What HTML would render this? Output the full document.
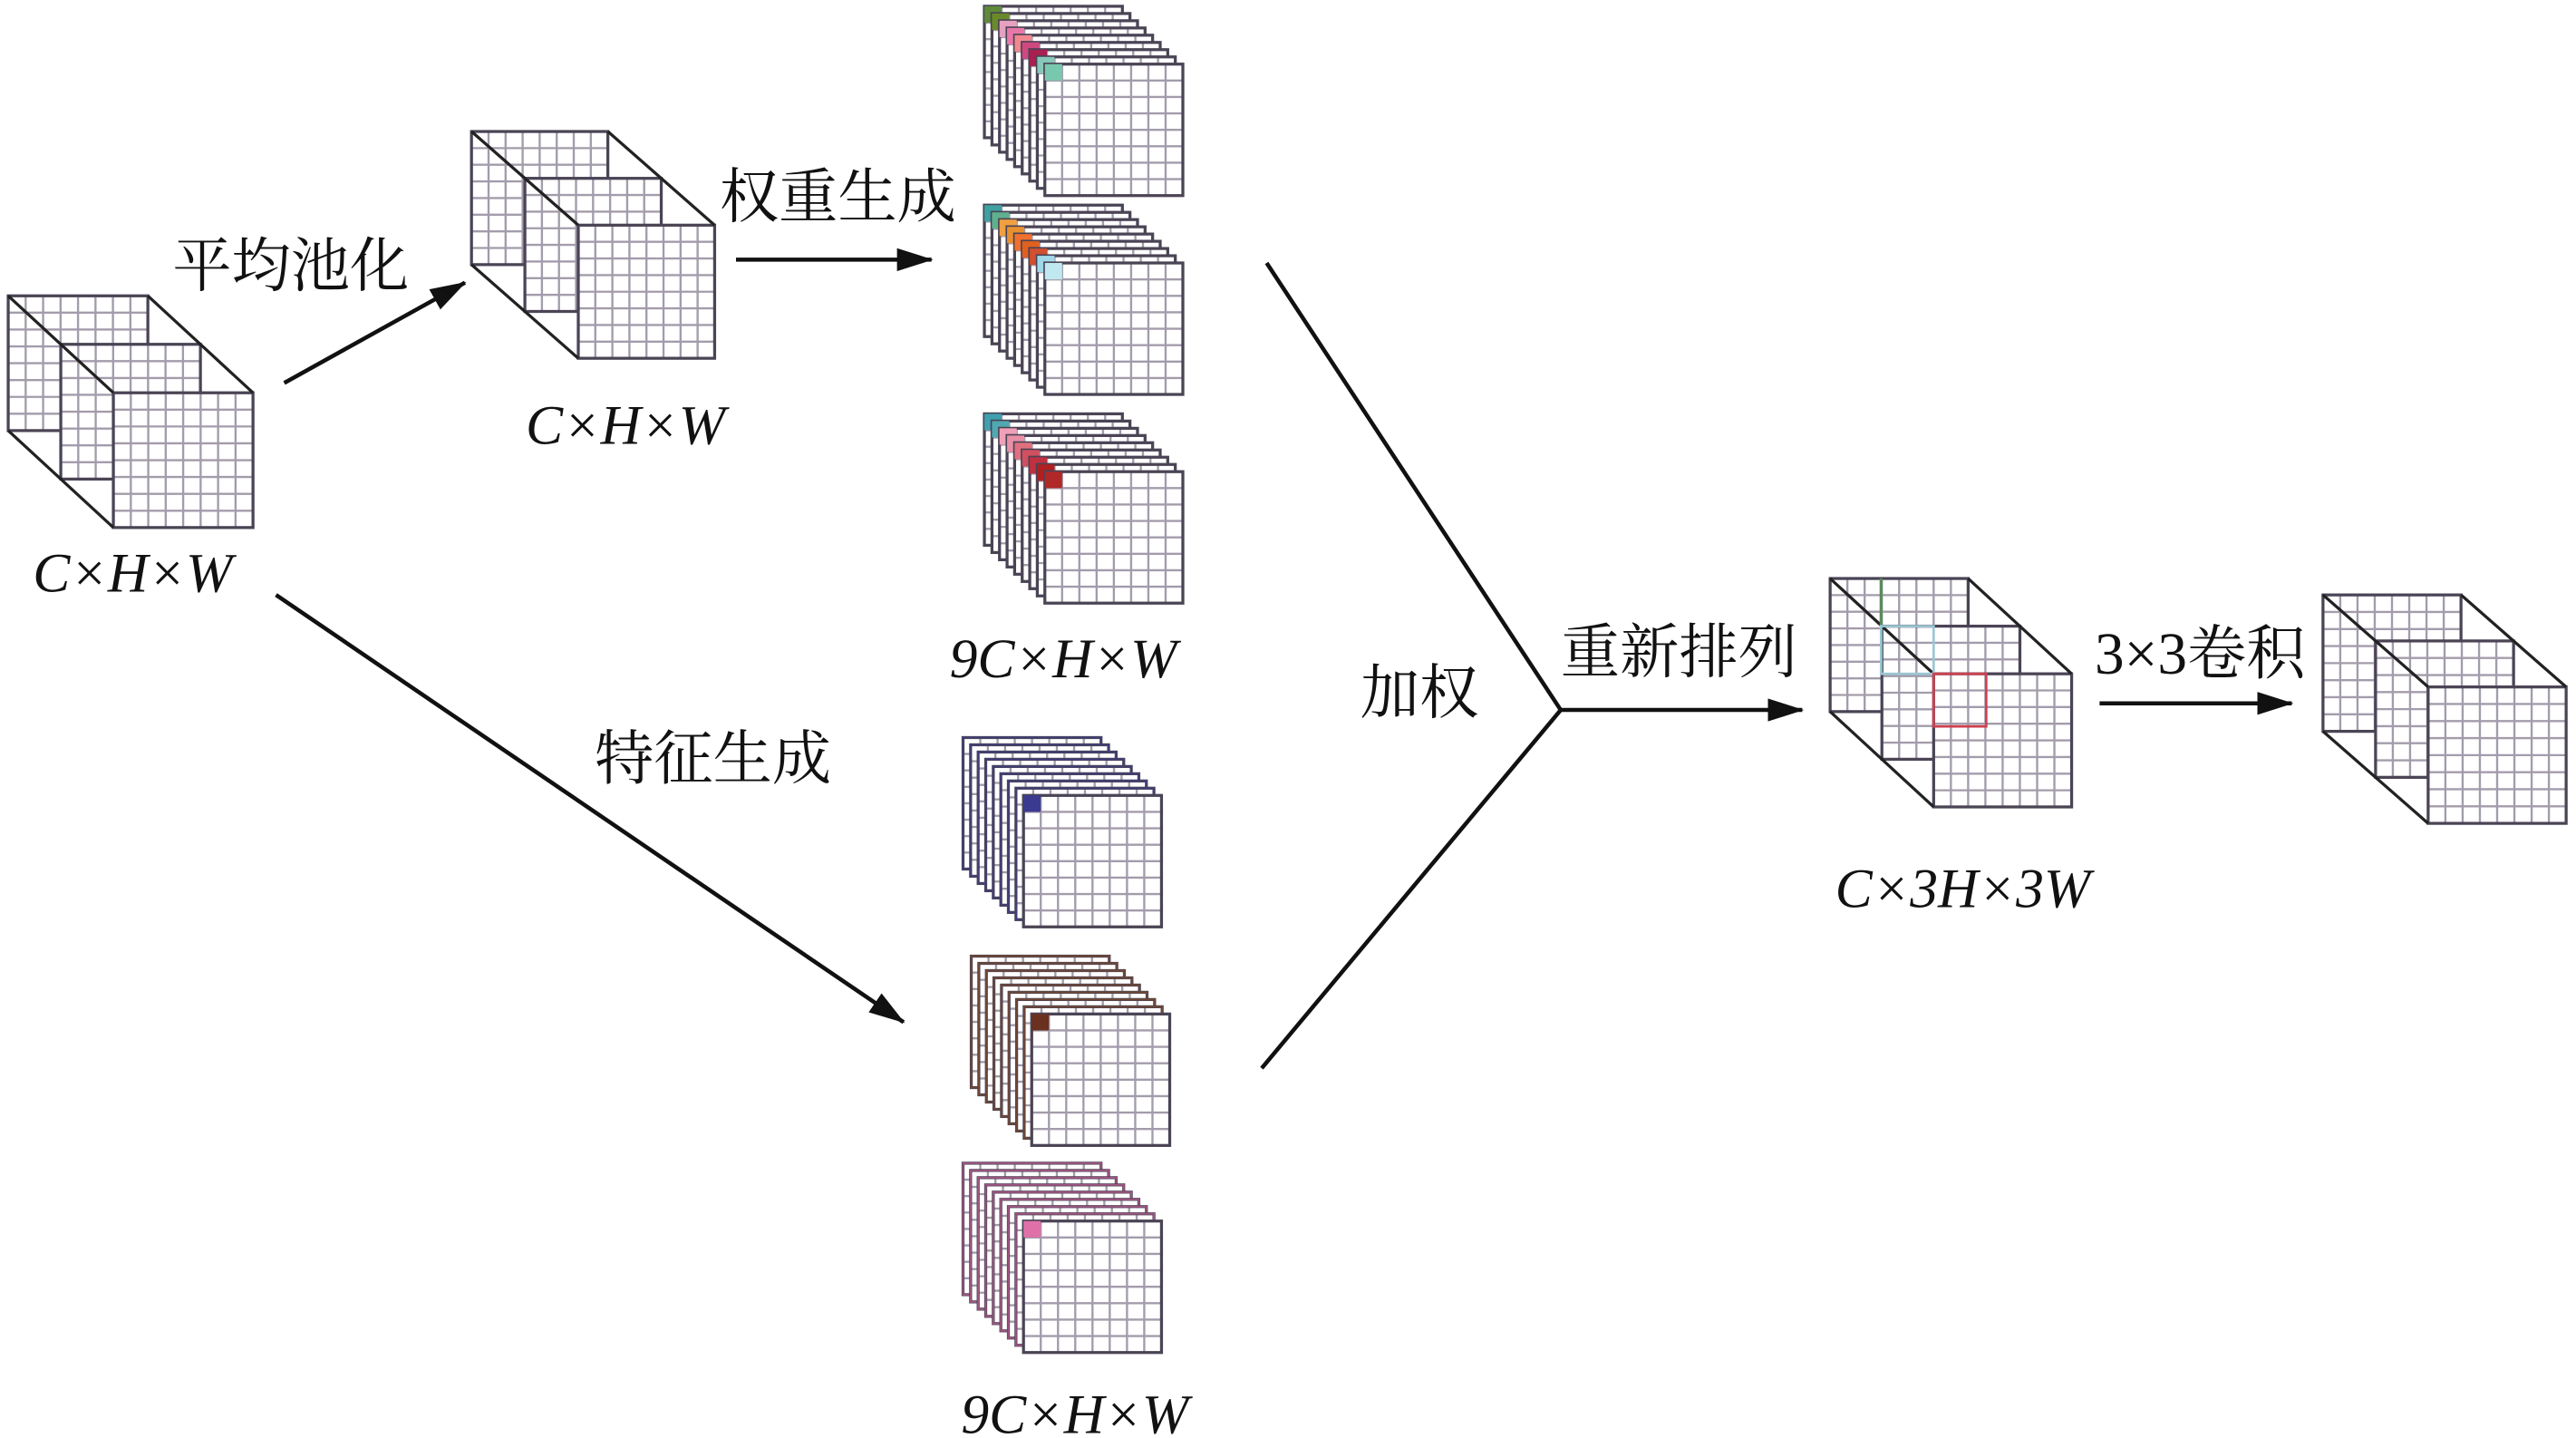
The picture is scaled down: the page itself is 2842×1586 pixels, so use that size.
<!DOCTYPE html>
<html><head><meta charset="utf-8"><style>
html,body{margin:0;padding:0;background:#fff;}
svg{display:block}
text{font-family:"Liberation Serif","Noto Serif CJK SC",serif;fill:#111}
.cn{font-family:"Liberation Serif","Noto Serif CJK SC","Noto Sans CJK SC",serif;font-size:36px}
.it{font-style:italic;font-size:34px}
</style></head><body>
<svg id="s" width="2842" height="1586" viewBox="0 0 1568 875" xmlns="http://www.w3.org/2000/svg">
<defs><marker id="b" markerWidth="22" markerHeight="14" refX="21" refY="7" orient="auto" markerUnits="userSpaceOnUse"><path d="M0,0 L22,7 L0,14 z" fill="#111"/></marker></defs>
<g id="g"></g>
<g stroke="#111" stroke-width="2.5" fill="none">
<line x1="173" y1="233" x2="283" y2="172" marker-end="url(#b)"/>
<line x1="448" y1="158" x2="567" y2="158" marker-end="url(#b)"/>
<line x1="168" y1="362" x2="550" y2="622" marker-end="url(#b)"/>
<polyline points="771,160 950,432 768,650"/>
<line x1="950" y1="432" x2="1097" y2="432" marker-end="url(#b)"/>
<line x1="1278" y1="428" x2="1395" y2="428" marker-end="url(#b)"/>
</g>
<text class="cn" x="105" y="174">平均池化</text>
<text class="cn" x="438" y="132">权重生成</text>
<text class="cn" x="362" y="474">特征生成</text>
<text class="cn" x="828" y="434">加权</text>
<text class="cn" x="950" y="409">重新排列</text>
<text class="cn" x="1275" y="410">3×3卷积</text>
<text class="it" x="20" y="360">C×H×W</text>
<text class="it" x="320" y="270">C×H×W</text>
<text class="it" x="578" y="412">9C×H×W</text>
<text class="it" x="585" y="872">9C×H×W</text>
<text class="it" x="1117" y="552">C×3H×3W</text>
</svg>
<script>
var g=document.getElementById('g'),h='';
var GL='#a39cab',BD='#4a4455';
function grid(x,y,w,hh,n,m,fill){var s='<rect x="'+x+'" y="'+y+'" width="'+w+'" height="'+hh+'" fill="'+(fill||'#fff')+'" stroke="none"/>';
for(var i=1;i<n;i++){var xx=x+w*i/n;s+='<line x1="'+xx+'" y1="'+y+'" x2="'+xx+'" y2="'+(y+hh)+'" stroke="'+GL+'" stroke-width="1.3"/>';}
for(var j=1;j<m;j++){var yy=y+hh*j/m;s+='<line x1="'+x+'" y1="'+yy+'" x2="'+(x+w)+'" y2="'+yy+'" stroke="'+GL+'" stroke-width="1.3"/>';}
s+='<rect x="'+x+'" y="'+y+'" width="'+w+'" height="'+hh+'" fill="none" stroke="'+BD+'" stroke-width="1.8"/>';return s;}
function cube(x,y,w,hh,dx,dy){var s='';
s+=grid(x,y,w,hh,8,8,'#fff');
s+=grid(x+dx/2,y+dy/2,w,hh,8,8,'#fff');
s+=grid(x+dx,y+dy,w,hh,8,8,'#fff');
s+='<g stroke="#222" stroke-width="1.8"><line x1="'+x+'" y1="'+y+'" x2="'+(x+dx)+'" y2="'+(y+dy)+'"/><line x1="'+(x+w)+'" y1="'+y+'" x2="'+(x+w+dx)+'" y2="'+(y+dy)+'"/><line x1="'+x+'" y1="'+(y+hh)+'" x2="'+(x+dx)+'" y2="'+(y+hh+dy)+'"/></g>';
return s;}
function stack(fx,fy,w,hh,cols,edge){var s='';for(var k=8;k>=0;k--){var x=fx-k*4.6,y=fy-k*4.4;s+=grid(x,y,w,hh,8,8,'#fff');var c=cols[8-k];if(c)s+='<rect x="'+x+'" y="'+y+'" width="'+(w/8)+'" height="'+(hh/8)+'" fill="'+c+'"/>';
if(edge&&k>0)s+='<rect x="'+x+'" y="'+y+'" width="'+w+'" height="'+hh+'" fill="none" stroke="'+edge+'" stroke-width="1" opacity="0.6"/>';}return s;}
h+=cube(5,180,85,82,64,59);
h+=cube(287,80,83,81,65,57);
h+=cube(1114,352,84,81,63,58);
h+=cube(1414,362,84,83,64,56);
h+='<line x1="1145" y1="352" x2="1145" y2="381" stroke="#5a8a5a" stroke-width="1.8"/><rect x="1145" y="381" width="32" height="29" fill="none" stroke="#9cc7d4" stroke-width="1.5"/><rect x="1177" y="410" width="32" height="32" fill="none" stroke="#d04050" stroke-width="1.5"/>';
h+=stack(636,39,84,80,['#5e8a3a','#6a8a2a','#e6a0c0','#e878a8','#f08890','#d04880','#a82050','#88c8b8','#78c8b0']);
h+=stack(636,160,84,80,['#40a0a0','#60b090','#f0a040','#e89030','#f07030','#e06020','#d05030','#a0d8e8','#c0e8f0']);
h+=stack(636,287,84,80,['#40a0b0','#50a8b0','#f0a0b8','#e890a8','#e07080','#d05060','#c03040','#b02020','#b02828']);
h+=stack(623,484,84,80,[0,0,0,0,0,0,0,0,'#3a3a90'],'#3a3a90');
h+=stack(628,617,84,80,[0,0,0,0,0,0,0,0,'#6a3020'],'#8a4a20');
h+=stack(623,743,84,80,[0,0,0,0,0,0,0,0,'#e070a8'],'#e060a0');
g.innerHTML=h;
</script>
</body></html>
